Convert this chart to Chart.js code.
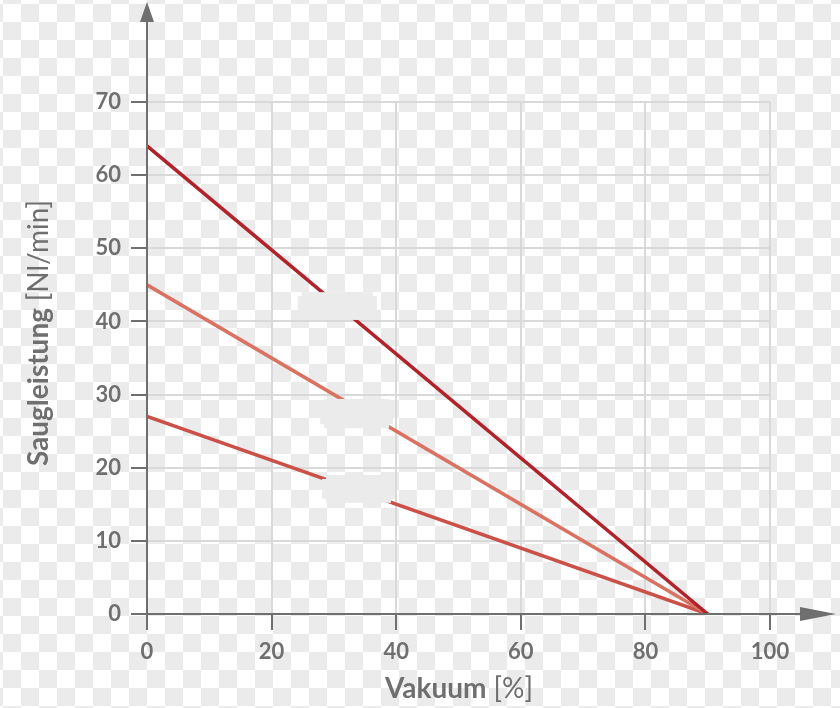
<!DOCTYPE html>
<html>
<head>
<meta charset="utf-8">
<script src="https://cdn.jsdelivr.net/npm/chart.js@4/dist/chart.umd.min.js"></script>
<style>
  html, body { margin: 0; padding: 0; }
  body {
    width: 840px; height: 708px; overflow: hidden;
    background-color: #ffffff;
    background-image: conic-gradient(#ebebeb 25%, #ffffff 25% 50%, #ebebeb 50% 75%, #ffffff 75%);
    background-size: 36px 36px;
    background-position: 3px 4px;
  }
  #wrap { position: relative; width: 840px; height: 708px; }
</style>
</head>
<body>
<div id="wrap"><canvas id="chart" width="840" height="708"></canvas></div>
<script>
const vacuum = [0, 90];          // Vakuum [%]
const flowHigh = [64, 0];        // Saugleistung [Nl/min]
const flowMid = [45, 0];
const flowLow = [27, 0];
const xTicks = [0, 20, 40, 60, 80, 100];
const yTicks = [0, 10, 20, 30, 40, 50, 60, 70];

const axisGrey = '#6f6f6f';
const fontFamily = 'Lato, "Open Sans", sans-serif';

const toPoints = (ys) => vacuum.map((x, i) => ({ x: x, y: ys[i] }));

// blank label boxes over the lines (data units)
const labelBoxes = [
  { x0: 24.2, x1: 36.9, y0: 44.0, y1: 40.2 },
  { x0: 27.8, x1: 39.5, y0: 29.4, y1: 25.4 },
  { x0: 28.1, x1: 39.8, y0: 19.0, y1: 15.2 }
];

const axesPlugin = {
  id: 'axesPlugin',
  afterDatasetsDraw(chart) {
    const ctx = chart.ctx;
    const xs = chart.scales.x, ys = chart.scales.y;
    ctx.save();
    ctx.fillStyle = '#ebebeb';
    labelBoxes.forEach(b => {
      const l = xs.getPixelForValue(b.x0), r = xs.getPixelForValue(b.x1);
      const t = ys.getPixelForValue(b.y0), btm = ys.getPixelForValue(b.y1);
      ctx.fillRect(l + 4, t, r - l - 8, btm - t);
      ctx.fillRect(l, t + 4, r - l, btm - t - 8);
    });
    const x0 = xs.getPixelForValue(0), y0 = ys.getPixelForValue(0);
    ctx.strokeStyle = axisGrey;
    ctx.fillStyle = axisGrey;
    ctx.lineWidth = 2;
    ctx.beginPath();
    ctx.moveTo(x0, y0);
    ctx.lineTo(x0, 18);
    ctx.moveTo(x0, y0);
    ctx.lineTo(820, y0);
    ctx.stroke();
    // arrow heads
    ctx.beginPath();
    ctx.moveTo(x0, 2);
    ctx.lineTo(x0 - 7, 22);
    ctx.lineTo(x0 + 7, 22);
    ctx.closePath();
    ctx.fill();
    ctx.beginPath();
    ctx.moveTo(836, y0);
    ctx.lineTo(800, y0 - 7);
    ctx.lineTo(800, y0 + 7);
    ctx.closePath();
    ctx.fill();
    ctx.restore();
  },
  afterDraw(chart) {
    const ctx = chart.ctx;
    ctx.save();
    ctx.fillStyle = axisGrey;
    ctx.textBaseline = 'alphabetic';
    const drawMixed = (bold, normal, cx, cy) => {
      ctx.font = 'bold 28px ' + fontFamily;
      const wb = ctx.measureText(bold).width;
      ctx.font = '28px ' + fontFamily;
      const wn = ctx.measureText(normal).width;
      const start = cx - (wb + wn) / 2;
      ctx.font = 'bold 28px ' + fontFamily;
      ctx.textAlign = 'left';
      ctx.fillText(bold, start, cy);
      ctx.font = '28px ' + fontFamily;
      ctx.fillText(normal, start + wb, cy);
    };
    drawMixed('Vakuum ', '[%]', 459, 698);
    ctx.translate(48, 333);
    ctx.rotate(-Math.PI / 2);
    drawMixed('Saugleistung ', '[Nl/min]', 0, 0);
    ctx.restore();
  }
};

new Chart(document.getElementById('chart'), {
  type: 'line',
  data: {
    datasets: [
      { data: toPoints(flowHigh), borderColor: '#b2222a', borderWidth: 3.5 },
      { data: toPoints(flowMid), borderColor: '#d97261', borderWidth: 3.5 },
      { data: toPoints(flowLow), borderColor: '#cb5048', borderWidth: 3.5 }
    ]
  },
  options: {
    responsive: false,
    animation: false,
    layout: { padding: { left: 0, right: 70, top: 102, bottom: 0 } },
    elements: { point: { radius: 0 }, line: { tension: 0 } },
    plugins: { legend: { display: false }, tooltip: { enabled: false } },
    scales: {
      x: {
        type: 'linear', min: 0, max: 100,
        afterFit: (scale) => { scale.height = 94; },
        afterBuildTicks: (scale) => { scale.ticks = xTicks.map(v => ({ value: v })); },
        border: { display: false },
        grid: { color: '#d9d9d9', lineWidth: 2, tickColor: axisGrey, tickLength: 16, drawTicks: true },
        ticks: { color: axisGrey, font: { family: fontFamily, size: 22, weight: 'bold' }, padding: 9, maxRotation: 0 }
      },
      y: {
        type: 'linear', min: 0, max: 70,
        afterFit: (scale) => { scale.width = 147; },
        afterBuildTicks: (scale) => { scale.ticks = yTicks.map(v => ({ value: v })); },
        border: { display: false },
        grid: { color: '#d9d9d9', lineWidth: 2, tickColor: axisGrey, tickLength: 16 },
        ticks: { color: axisGrey, font: { family: fontFamily, size: 22, weight: 'bold' }, padding: 10 }
      }
    }
  },
  plugins: [axesPlugin]
});
</script>
</body>
</html>
